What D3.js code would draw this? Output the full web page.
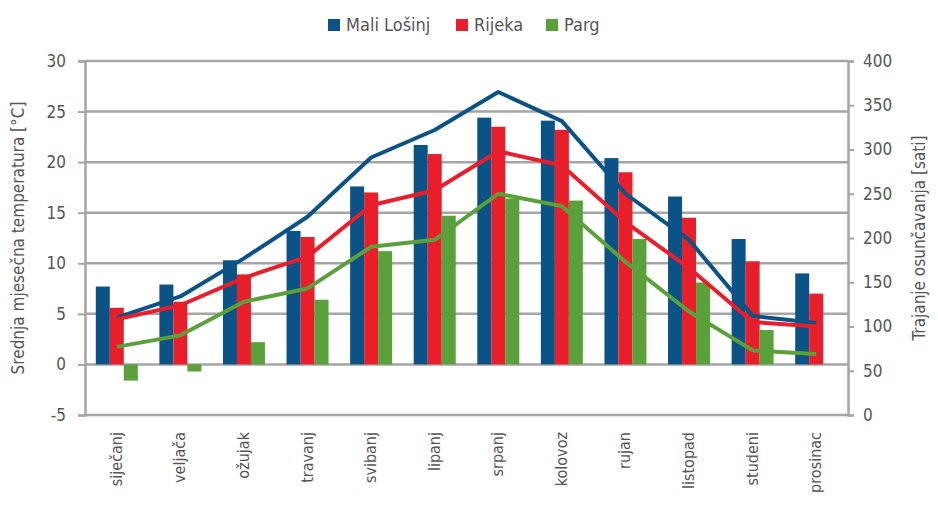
<!DOCTYPE html>
<html>
<head>
<meta charset="utf-8">
<script src="https://cdn.jsdelivr.net/npm/d3@7"></script>
<style>
  body { margin: 0; background: #fff; }
  text { font-family: "Liberation Sans Narrow", "DejaVu Sans Condensed", sans-serif; fill: #555; }
</style>
</head>
<body>
<div id="chart"></div>
<script>
// months on the x axis
const months = ["siječanj", "veljača", "ožujak", "travanj", "svibanj", "lipanj",
  "srpanj", "kolovoz", "rujan", "listopad", "studeni", "prosinac"];
const stations = ["Mali Lošinj", "Rijeka", "Parg"];
const colors = ["#0b5286", "#e81f2a", "#5ba13b"];

// mean monthly temperature [°C] (bars, left axis)
const tempLosinj = [7.7, 7.9, 10.3, 13.2, 17.6, 21.7, 24.4, 24.1, 20.4, 16.6, 12.4, 9.0];
const tempRijeka = [5.6, 6.2, 8.9, 12.6, 17.0, 20.8, 23.5, 23.2, 19.0, 14.5, 10.2, 7.0];
const tempParg = [-1.6, -0.7, 2.2, 6.4, 11.2, 14.7, 16.4, 16.2, 12.4, 8.1, 3.4, 0];

// sunshine duration [hours] (lines, right axis)
const sunLosinj = [110, 134, 177, 224, 291, 322, 365, 332, 250, 198, 112, 104];
const sunRijeka = [108, 124, 155, 179, 237, 254, 298, 282, 218, 166, 105, 100];
const sunParg = [77, 90, 128, 143, 190, 198, 250, 236, 173, 117, 73, 69];

const leftTicks = [-5, 0, 5, 10, 15, 20, 25, 30];
const rightTicks = [0, 50, 100, 150, 200, 250, 300, 350, 400];

const temps = [tempLosinj, tempRijeka, tempParg];
const suns = [sunLosinj, sunRijeka, sunParg];

let w = 938;
let h = 507;
let plotLeft = 85, plotRight = 848, plotTop = 61, plotBottom = 415;

const svg = d3.select("#chart").append("svg")
  .attr("width", w)
  .attr("height", h);

const x = d3.scaleBand().domain(months).range([plotLeft, plotRight]);
const xInner = d3.scaleBand().domain([0, 1, 2]).range([0, 42]);
const yL = d3.scaleLinear().domain([-5, 30]).range([plotBottom, plotTop]);
const yR = d3.scaleLinear().domain([0, 400]).range([plotBottom, plotTop]);

const gridColor = "#a5a5a5";

// gridlines
svg.append("g").selectAll("line")
  .data(leftTicks)
  .enter().append("line")
  .attr("x1", plotLeft).attr("x2", plotRight)
  .attr("y1", d => yL(d)).attr("y2", d => yL(d))
  .attr("stroke", gridColor)
  .attr("stroke-width", 2.5);

// bars
temps.forEach((series, i) => {
  svg.append("g").selectAll("rect")
    .data(series)
    .enter().append("rect")
    .attr("x", (d, j) => x(months[j]) + (x.bandwidth() - 42) / 2 + xInner(i))
    .attr("width", xInner.bandwidth())
    .attr("y", d => yL(Math.max(0, d)))
    .attr("height", d => Math.abs(yL(d) - yL(0)))
    .attr("fill", colors[i]);
});

// axes (plain hyphen for negatives, like the original)
const axisL = svg.append("g")
  .attr("transform", "translate(" + plotLeft + ",0)")
  .call(d3.axisLeft(yL).tickValues(leftTicks).tickSize(7).tickPadding(12).tickFormat(d => String(d)));
const axisR = svg.append("g")
  .attr("transform", "translate(" + plotRight + ",0)")
  .call(d3.axisRight(yR).tickValues(rightTicks).tickSize(6).tickPadding(9).tickFormat(d => String(d)));

[axisL, axisR].forEach(a => {
  a.select(".domain").attr("stroke", gridColor).attr("stroke-width", 2.5);
  a.selectAll(".tick line").attr("stroke", gridColor).attr("stroke-width", 2);
  a.selectAll("text").style("font-size", "17px").attr("fill", "#555");
});
axisR.selectAll("text").attr("x", 15);

// sunshine lines
const line = d3.line()
  .x((d, j) => x(months[j]) + x.bandwidth() / 2)
  .y(d => yR(d));

suns.forEach((series, i) => {
  svg.append("path")
    .datum(series)
    .attr("d", line)
    .attr("fill", "none")
    .attr("stroke", colors[i])
    .attr("stroke-width", 4)
    .attr("stroke-linejoin", "round");
});

// month labels
svg.append("g").selectAll("text")
  .data(months)
  .enter().append("text")
  .attr("transform", d => "translate(" + (x(d) + x.bandwidth() / 2 + 5) + ",432) rotate(-90)")
  .attr("text-anchor", "end")
  .style("font-size", "16px")
  .text(d => d);

// axis titles
svg.append("text")
  .attr("transform", "translate(24,238) rotate(-90)")
  .attr("text-anchor", "middle")
  .style("font-size", "17px")
  .text("Srednja mjesečna temperatura [°C]");

svg.append("text")
  .attr("transform", "translate(925,238) rotate(-90)")
  .attr("text-anchor", "middle")
  .style("font-size", "17px")
  .text("Trajanje osunčavanja [sati]");

// legend
const legendX = [328, 456, 546];
const legend = svg.append("g").selectAll("g")
  .data(stations)
  .enter().append("g")
  .attr("transform", (d, i) => "translate(" + legendX[i] + ",19)");

legend.append("rect")
  .attr("width", 12).attr("height", 12)
  .attr("fill", (d, i) => colors[i]);

legend.append("text")
  .attr("x", 18).attr("y", 12)
  .style("font-size", "18px")
  .text(d => d);
</script>
</body>
</html>
